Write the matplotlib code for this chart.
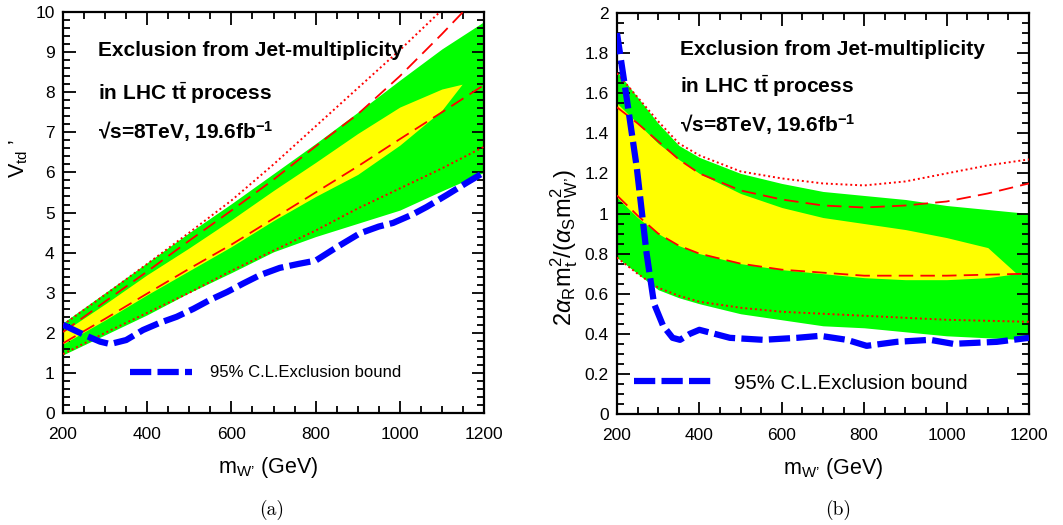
import matplotlib
matplotlib.use("Agg")
import matplotlib.pyplot as plt
from matplotlib.ticker import MultipleLocator

plt.rcParams['font.family'] = ['Liberation Sans', 'DejaVu Sans']
plt.rcParams['mathtext.fontset'] = 'custom'
plt.rcParams['mathtext.rm'] = 'Liberation Sans'
plt.rcParams['mathtext.it'] = 'Liberation Sans:italic'
plt.rcParams['mathtext.bf'] = 'Liberation Sans:bold'

# ---------------- panel (a): V_td' ----------------
m_a = [200, 300, 400, 500, 600, 700, 800, 900, 1000, 1100, 1200]
green_hi_a = [2.25, 3.0, 3.75, 4.5, 5.22, 5.97, 6.72, 7.5, 8.3, 9.08, 9.76]
green_lo_a = [1.45, 1.95, 2.45, 3.0, 3.5, 4.02, 4.4, 4.73, 5.06, 5.54, 6.0]

m_yel_a = [200, 300, 400, 500, 600, 700, 800, 900, 1000, 1100, 1148]
yel_hi_a = [2.02, 2.72, 3.45, 4.12, 4.82, 5.55, 6.25, 6.97, 7.63, 8.08, 8.2]
yel_lo_a = [1.72, 2.32, 2.95, 3.55, 4.15, 4.8, 5.4, 5.95, 6.68, 7.55, 8.2]

dot_hi_a = [2.2, 2.95, 3.72, 4.5, 5.3, 6.2, 7.15, 8.1, 9.05, 10.05, 11.0]
dash_hi_a = [2.02, 2.78, 3.53, 4.3, 5.05, 5.82, 6.65, 7.45, 8.4, 9.45, 10.55]
dash_lo_a = [1.74, 2.35, 2.98, 3.6, 4.2, 4.85, 5.5, 6.15, 6.83, 7.5, 8.18]
dot_lo_a = [1.47, 2.0, 2.5, 3.0, 3.55, 4.05, 4.55, 5.1, 5.6, 6.1, 6.64]

m_blue_a = [200, 250, 288, 312, 350, 390, 430, 470, 510, 549, 590, 628, 668,
            715, 760, 800, 851, 905, 950, 984, 1030, 1064, 1112, 1160, 1200]
blue_a = [2.2, 1.95, 1.78, 1.72, 1.82, 2.07, 2.25, 2.4, 2.6, 2.82, 3.02, 3.23,
          3.44, 3.62, 3.72, 3.8, 4.14, 4.48, 4.65, 4.74, 4.95, 5.14, 5.44, 5.75, 6.0]

# ---------------- panel (b): 2 a_R m_t^2 / (a_S m_W'^2) ----------------
m_b = [200, 250, 300, 350, 400, 500, 600, 700, 800, 900, 1000, 1100, 1200]
green_hi_b = [1.71, 1.58, 1.45, 1.34, 1.28, 1.20, 1.15, 1.11, 1.09, 1.07, 1.04, 1.02, 1.0]
green_lo_b = [0.78, 0.70, 0.62, 0.58, 0.55, 0.50, 0.47, 0.44, 0.43, 0.41, 0.39, 0.38, 0.37]

m_yel_b = [200, 250, 300, 350, 400, 500, 600, 700, 800, 900, 1000, 1100, 1170]
yel_hi_b = [1.55, 1.45, 1.35, 1.27, 1.20, 1.10, 1.03, 0.98, 0.95, 0.92, 0.88, 0.83, 0.70]
yel_lo_b = [1.08, 0.98, 0.90, 0.84, 0.80, 0.75, 0.72, 0.70, 0.68, 0.67, 0.67, 0.68, 0.70]

dot_hi_b = [1.70, 1.58, 1.46, 1.35, 1.29, 1.21, 1.175, 1.15, 1.14, 1.16, 1.20, 1.24, 1.27]
dash_hi_b = [1.53, 1.45, 1.36, 1.27, 1.20, 1.115, 1.07, 1.04, 1.03, 1.04, 1.06, 1.10, 1.15]
dash_lo_b = [1.09, 0.99, 0.90, 0.84, 0.80, 0.75, 0.72, 0.705, 0.69, 0.69, 0.69, 0.695, 0.70]
dot_lo_b = [0.78, 0.70, 0.63, 0.59, 0.56, 0.53, 0.51, 0.50, 0.49, 0.48, 0.47, 0.465, 0.46]

m_blue_b = [200, 224, 248, 272, 290, 312, 335, 353, 377, 400, 474, 555, 637,
            693, 758, 806, 879, 960, 1016, 1122, 1200]
blue_b = [1.90, 1.57, 1.23, 0.80, 0.55, 0.44, 0.38, 0.37, 0.40, 0.42, 0.38, 0.37,
          0.38, 0.39, 0.37, 0.34, 0.36, 0.37, 0.35, 0.36, 0.38]

GREEN = '#00ff00'
YELLOW = '#ffff00'
RED = '#ff0000'
BLUE = '#0000ff'


def style_axes(ax, ymax, ymajor, yminor):
    ax.set_xlim(200, 1200)
    ax.set_ylim(0, ymax)
    ax.xaxis.set_major_locator(MultipleLocator(200))
    ax.xaxis.set_minor_locator(MultipleLocator(50))
    ax.yaxis.set_major_locator(MultipleLocator(ymajor))
    ax.yaxis.set_minor_locator(MultipleLocator(yminor))
    ax.tick_params(which='both', direction='in', top=True, right=True,
                   width=1.3, labelsize=12.5)
    ax.tick_params(axis='x', pad=10)
    ax.tick_params(axis='y', pad=6)
    ax.tick_params(which='major', length=9)
    ax.tick_params(which='minor', length=5)
    for s in ax.spines.values():
        s.set_linewidth(1.6)


def draw_panel(ax, m, g_hi, g_lo, my, y_hi, y_lo, d_hi, da_hi, da_lo, d_lo, mb, b):
    ax.fill_between(m, g_lo, g_hi, color=GREEN, lw=0, zorder=1)
    ax.fill_between(my, y_lo, y_hi, color=YELLOW, lw=0, zorder=2)
    ax.plot(m, d_hi, color=RED, lw=1.4, ls=(0, (1, 1.5)), zorder=3)
    ax.plot(m, d_lo, color=RED, lw=1.4, ls=(0, (1, 1.5)), zorder=3)
    ax.plot(m, da_hi, color=RED, lw=1.3, ls=(0, (8, 4)), zorder=3)
    ax.plot(m, da_lo, color=RED, lw=1.3, ls=(0, (8, 4)), zorder=3)
    line, = ax.plot(mb, b, color=BLUE, lw=4.5, ls=(0, (3.4, 1.0)),
                    solid_capstyle='butt', dash_capstyle='butt', zorder=4,
                    label='95% C.L.Exclusion bound')
    return line


fig = plt.figure(figsize=(10.63, 5.25), dpi=100)
ax1 = fig.add_axes([0.0593, 0.2133, 0.396, 0.7638])
ax2 = fig.add_axes([0.5804, 0.2114, 0.3876, 0.7638])

draw_panel(ax1, m_a, green_hi_a, green_lo_a, m_yel_a, yel_hi_a, yel_lo_a,
           dot_hi_a, dash_hi_a, dash_lo_a, dot_lo_a, m_blue_a, blue_a)
draw_panel(ax2, m_b, green_hi_b, green_lo_b, m_yel_b, yel_hi_b, yel_lo_b,
           dot_hi_b, dash_hi_b, dash_lo_b, dot_lo_b, m_blue_b, blue_b)

style_axes(ax1, 10, 1, 0.2)
style_axes(ax2, 2, 0.2, 0.05)
ax2.yaxis.set_major_formatter(plt.FuncFormatter(lambda v, p: '%g' % round(v, 2)))

# titles inside the frames
lines = ['Exclusion from Jet-multiplicity',
         r'in LHC t$\bar{\mathbf{t}}$ process',
         r'√s=8TeV, 19.6fb$^{\mathbf{-1}}$']
for ax, x0, ys in [(ax1, 0.083, [0.905, 0.797, 0.703]),
                   (ax2, 0.153, [0.908, 0.818, 0.723])]:
    for txt, yy in zip(lines, ys):
        ax.text(x0, yy, txt, transform=ax.transAxes, fontsize=15,
                fontweight='bold', va='center', ha='left', zorder=5)

ax1.legend(loc='center left', bbox_to_anchor=(0.159, 0.10), frameon=False,
           fontsize=12, handlelength=3.7, handletextpad=1.1, borderpad=0,
           borderaxespad=0)
ax2.legend(loc='center left', bbox_to_anchor=(0.041, 0.077), frameon=False,
           fontsize=14.7, handlelength=3.8, handletextpad=1.1, borderpad=0,
           borderaxespad=0)

xlab = "m$_{\\mathrm{W\u2019}}$ (GeV)"
ax1.set_xlabel(xlab, fontsize=15.5, va='center')
ax2.set_xlabel(xlab, fontsize=15.5, va='center')
ax1.xaxis.set_label_coords(0.487, -0.135)
ax2.xaxis.set_label_coords(0.524, -0.135)

ax1.set_ylabel("V$_{\\mathrm{td}}$ \u2019", fontsize=15.5, va='center')
ax2.set_ylabel("2$\\alpha_{\\mathrm{R}}$m$_{\\mathrm{t}}^{2}$/($\\alpha_{\\mathrm{S}}$m$_{\\mathrm{W\u2019}}^{2}$)",
               fontsize=17, va='center')
ax1.yaxis.set_label_coords(-0.105, 0.636)
ax2.yaxis.set_label_coords(-0.127, 0.414)

fig.text(272 / 1063, 1 - 510 / 525, '(a)', family='cmr10', fontsize=14,
         ha='center', va='center')
fig.text(838 / 1063, 1 - 510 / 525, '(b)', family='cmr10', fontsize=14,
         ha='center', va='center')

fig.savefig('out.png', dpi=100)
